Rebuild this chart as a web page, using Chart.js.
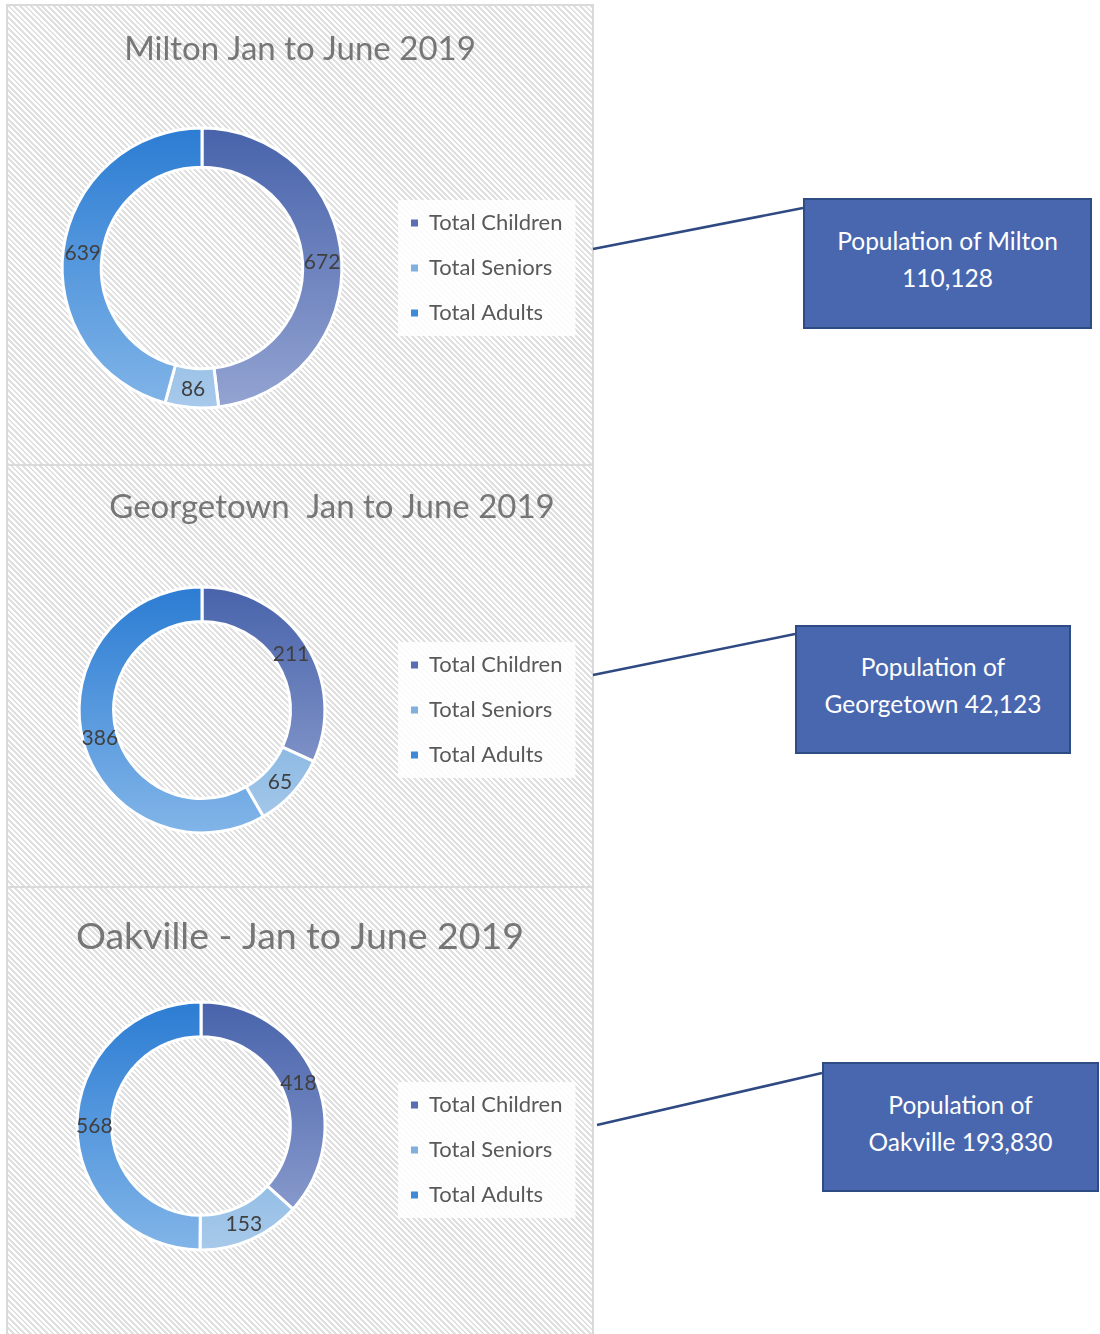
<!DOCTYPE html>
<html>
<head>
<meta charset="utf-8">
<script src="https://cdn.jsdelivr.net/npm/chart.js@4.4.1/dist/chart.umd.min.js"></script>
<style>
  body { margin: 0; background: #fff; width: 1100px; height: 1334px; position: relative; overflow: hidden; font-family: Lato, sans-serif; }
  .panel { position: absolute; left: 6px; width: 588px;
    background: repeating-linear-gradient(45deg, #fff 0 2px, #e0e0e0 2px 4px);
    box-shadow: inset 0 0 0 2px #dadada; }
  .panel canvas { position: absolute; left: 0; top: 0; }
  .pop { position: absolute; box-sizing: border-box; background: #4967ae; border: 2px solid #2f4b84;
    color: #fff; font-size: 24.5px; line-height: 37px; text-align: center;
    display: flex; align-items: center; justify-content: center; padding-bottom: 9px; }
  svg.links { position: absolute; left: 0; top: 0; }
</style>
</head>
<body>
<div class="panel" style="top:4px;height:462px"><canvas id="milton" width="588" height="462"></canvas></div>
<div class="panel" style="top:464px;height:425px"><canvas id="georgetown" width="588" height="425"></canvas></div>
<div class="panel" style="top:886px;height:450px"><canvas id="oakville" width="588" height="450"></canvas></div>

<svg class="links" width="1100" height="1334">
  <line x1="593" y1="249" x2="803" y2="208" stroke="#2f4a82" stroke-width="2.5"/>
  <line x1="593" y1="675" x2="795" y2="634" stroke="#2f4a82" stroke-width="2.5"/>
  <line x1="597" y1="1125" x2="822" y2="1073" stroke="#2f4a82" stroke-width="2.5"/>
</svg>
<div class="pop" style="left:803px;top:198px;width:289px;height:131px">Population of Milton<br>110,128</div>
<div class="pop" style="left:795px;top:625px;width:276px;height:129px">Population of<br>Georgetown 42,123</div>
<div class="pop" style="left:822px;top:1062px;width:277px;height:130px">Population of<br>Oakville 193,830</div>

<script>
// data
const categories = ["Total Children", "Total Seniors", "Total Adults"];
const miltonValues = [672, 86, 639];
const georgetownValues = [211, 65, 386];
const oakvilleValues = [418, 153, 568];
const chartTitles = ["Milton Jan to June 2019", "Georgetown  Jan to June 2019", "Oakville - Jan to June 2019"];

// segment shading, top of ring -> bottom of ring
const topColors = ["#4863ab", "#5d9cd3", "#2b7cd3"];
const bottomColors = ["#94a4d2", "#a8caeb", "#82b5e8"];
const legendColors = ["#5a6fb3", "#7fb0de", "#3f8ad8"];

Chart.defaults.font.family = "Lato";

function segmentFill(ctx) {
  const i = ctx.dataIndex;
  const area = ctx.chart.chartArea;
  if (!area || i === undefined) return topColors[i || 0];
  const g = ctx.chart.ctx.createLinearGradient(0, area.top, 0, area.bottom);
  g.addColorStop(0, topColors[i]);
  g.addColorStop(1, bottomColors[i]);
  return g;
}

// value labels in the middle of each ring segment
const sliceLabels = {
  id: "sliceLabels",
  afterDatasetsDraw(chart) {
    const c = chart.ctx;
    const values = chart.data.datasets[0].data;
    c.save();
    c.font = "21px Lato";
    c.fillStyle = "#404040";
    c.textAlign = "center";
    c.textBaseline = "middle";
    chart.getDatasetMeta(0).data.forEach((arc, i) => {
      const p = arc.tooltipPosition();
      c.fillText(values[i], p.x, p.y + 1);
    });
    c.restore();
  }
};

// white box behind the legend
const legendBox = {
  id: "legendBox",
  beforeDraw(chart) {
    const hb = chart.legend.legendHitBoxes;
    if (!hb || !hb.length) return;
    const first = hb[0], last = hb[hb.length - 1];
    const w = Math.max(...hb.map(h => h.width));
    const c = chart.ctx;
    c.save();
    c.fillStyle = "rgba(255,255,255,0.85)";
    c.fillRect(first.left - 13, first.top - 12, w + 26, last.top + last.height - first.top + 24);
    c.restore();
  }
};

// move the title to a given centre x
const titleCenter = {
  id: "titleCenter",
  afterLayout(chart, args, opts) {
    const tb = chart.titleBlock;
    if (!tb || opts.x === undefined) return;
    const half = (tb.right - tb.left) / 2;
    tb.left = opts.x - half;
    tb.right = opts.x + half;
  }
};

const legendFontSize = 22;
const legendPadding = 23;
const measure = document.createElement("canvas").getContext("2d");
measure.font = legendFontSize + "px Lato";
const maxLabelW = Math.max(...categories.map(t => measure.measureText(t).width));

function legendItems(chart) {
  return chart.data.labels.map((text, i) => ({
    text: text,
    fillStyle: legendColors[i],
    strokeStyle: legendColors[i],
    lineWidth: 0,
    fontColor: "#595959",
    hidden: false,
    index: i
  }));
}

function makeChart(id, values, title, cfg) {
  const legendLeft = 405 - legendPadding;
  const padRight = 588 - legendLeft - (legendPadding + 7 + legendFontSize / 2 + maxLabelW + 10);
  return new Chart(document.getElementById(id), {
    type: "doughnut",
    data: {
      labels: categories,
      datasets: [{
        data: values,
        backgroundColor: segmentFill,
        borderColor: "#ffffff",
        borderWidth: 3
      }]
    },
    plugins: [sliceLabels, legendBox, titleCenter],
    options: {
      responsive: false,
      animation: false,
      cutout: "72%",
      layout: { padding: { left: 2 * cfg.cx - legendLeft, right: padRight, top: 0, bottom: cfg.bottom } },
      plugins: {
        tooltip: { enabled: false },
        titleCenter: { x: cfg.titleX },
        title: {
          display: true,
          text: title,
          color: "#767676",
          font: { size: cfg.titleSize, weight: "normal", lineHeight: 1.2 },
          padding: { top: cfg.titleTop, bottom: cfg.titleBottom }
        },
        legend: {
          position: "right",
          align: "center",
          fullSize: false,
          title: cfg.legendShift ? { display: true, text: " ", font: { size: 10, lineHeight: 1 }, padding: { top: cfg.legendShift * 2 - 10, bottom: 0 } } : { display: false },
          labels: {
            boxWidth: 7,
            boxHeight: 7,
            padding: legendPadding,
            color: "#595959",
            font: { size: legendFontSize },
            generateLabels: legendItems
          }
        }
      }
    }
  });
}

makeChart("milton", miltonValues, chartTitles[0],
  { cx: 196, titleX: 294, titleSize: 33, titleTop: 26, titleBottom: 57, bottom: 56.6 });
makeChart("georgetown", georgetownValues, chartTitles[1],
  { cx: 196, titleX: 326, titleSize: 33, titleTop: 24, titleBottom: 58, bottom: 54.6 });
makeChart("oakville", oakvilleValues, chartTitles[2],
  { cx: 195, titleX: 294, titleSize: 37.5, titleTop: 28, titleBottom: 41.5, bottom: 84.5, legendShift: 24 });
</script>
</body>
</html>
